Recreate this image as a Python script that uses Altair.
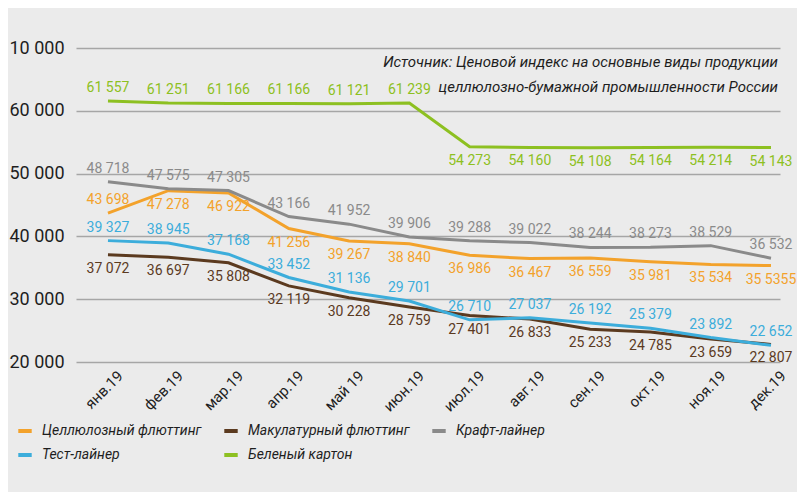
import pandas as pd
import altair as alt

FONT = "Roboto, Liberation Sans, sans-serif"

months = ["янв.19", "фев.19", "мар.19", "апр.19", "май 19", "июн.19",
          "июл.19", "авг.19", "сен.19", "окт.19", "ноя.19", "дек.19"]

series_names = ["Целлюлозный флюттинг", "Макулатурный флюттинг", "Крафт-лайнер",
                "Тест-лайнер", "Беленый картон"]
series_colors = ["#f3a22b", "#5b3a1f", "#8a8a8a", "#3caddb", "#8dc021"]

cellulose_fluting = [43698, 47278, 46922, 41256, 39267, 38840, 36986, 36467, 36559, 35981, 35534, 35355]
waste_fluting = [37072, 36697, 35808, 32119, 30228, 28759, 27401, 26833, 25233, 24785, 23659, 22807]
kraft_liner = [48718, 47575, 47305, 43166, 41952, 39906, 39288, 39022, 38244, 38273, 38529, 36532]
test_liner = [39327, 38945, 37168, 33452, 31136, 29701, 26710, 27037, 26192, 25379, 23892, 22652]
bleached_board = [61557, 61251, 61166, 61166, 61121, 61239, 54273, 54160, 54108, 54164, 54214, 54143]

# the source prints the last cellulose value as "35 5355"
label_overrides = {("Целлюлозный флюттинг", 11): "35 5355"}


def fmt(v):
    return f"{v:,}".replace(",", " ")


def above(name, i):
    if name in ("Крафт-лайнер", "Тест-лайнер"):
        return True
    if name == "Беленый картон":
        return i < 6
    if name == "Целлюлозный флюттинг":
        return i == 0
    return False


rows = []
for name, vals in zip(series_names, [cellulose_fluting, waste_fluting, kraft_liner,
                                     test_liner, bleached_board]):
    for i, (m, v) in enumerate(zip(months, vals)):
        rows.append({
            "month": m, "series": name, "value": v,
            "label": label_overrides.get((name, i), fmt(v)),
            "side": "above" if above(name, i) else "below",
        })
df = pd.DataFrame(rows)

x = alt.X("month:N", sort=months,
          scale=alt.Scale(type="point", padding=0.34, align=0.78),
          axis=alt.Axis(title=None, labelAngle=-45, labelFontSize=15, labelColor="#1e1e1e",
                        labelFont=FONT, domain=False, ticks=False, grid=False, labelPadding=6,
                        labelOffset=7))
y = alt.Y("value:Q", scale=alt.Scale(domain=[20000, 70000], nice=False, zero=False),
          axis=alt.Axis(title=None, values=[20000, 30000, 40000, 50000, 60000, 70000],
                        labelExpr="datum.value == 70000 ? '10 000' : replace(format(datum.value, ','), ',', ' ')",
                        grid=True, gridColor="#a6a6a6", gridWidth=1.5, domain=False, ticks=False,
                        labelFontSize=18, labelFont=FONT, labelColor="#1e1e1e", labelPadding=12))
color_scale = alt.Scale(domain=series_names, range=series_colors)

base = alt.Chart(df)

lines = base.mark_line(strokeWidth=3).encode(
    x=x, y=y,
    color=alt.Color("series:N", scale=color_scale, sort=series_names,
                    legend=alt.Legend(title=None, orient="none", legendX=-60, legendY=374,
                                      direction="horizontal", columns=3, symbolType="stroke",
                                      symbolStrokeWidth=4, symbolSize=180, labelFont=FONT,
                                      labelFontSize=14, labelFontStyle="italic",
                                      labelColor="#1e1e1e", columnPadding=14, rowPadding=7,
                                      labelOffset=8, labelLimit=300)),
)

labels_up = base.mark_text(dy=-13, fontSize=14, font=FONT).encode(
    x=x, y=y, text="label:N",
    color=alt.Color("series:N", scale=color_scale, legend=None),
).transform_filter(alt.datum.side == "above")

labels_down = base.mark_text(dy=14, fontSize=14, font=FONT).encode(
    x=x, y=y, text="label:N",
    color=alt.Color("series:N", scale=color_scale, legend=None),
).transform_filter(alt.datum.side == "below")

source = alt.Chart(pd.DataFrame({"t": [["Источник: Ценовой индекс на основные виды продукции",
                                        "целлюлозно-бумажной промышленности России"]]})).mark_text(
    align="right", baseline="middle", font=FONT, fontSize=15, fontStyle="italic",
    color="#1e1e1e", lineHeight=25,
).encode(x=alt.value(702), y=alt.value(14), text="t")

chart = alt.layer(lines, labels_up, labels_down, source).properties(
    width=704, height=314,
    padding={"left": 68, "top": 40, "right": 17, "bottom": 130},
    autosize="none",
).configure(background="#ebebeb").configure_view(stroke=None)

chart.save("out.html", embed_options={"renderer": "svg", "actions": False})
